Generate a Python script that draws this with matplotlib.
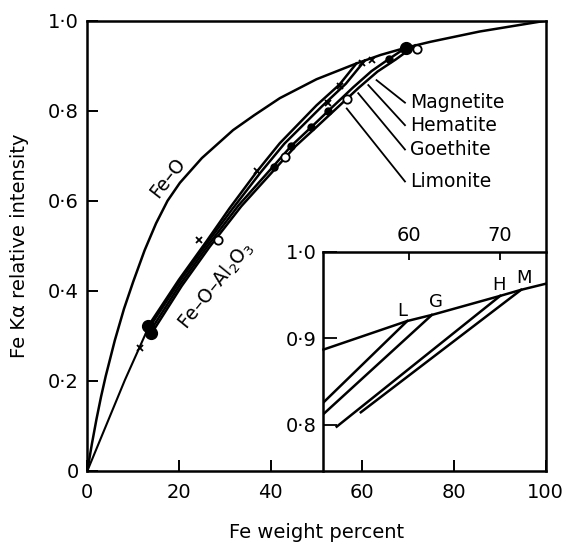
import matplotlib
matplotlib.use("Agg")
import matplotlib.pyplot as plt

plt.rcParams['font.family'] = ['DejaVu Sans']

# ---------------- data (main panel) ----------------
feo_x = [0, 1, 2, 3, 4, 6, 8, 10, 12.5, 15, 17.5, 20.2, 25, 31.8, 36.4, 42, 50, 58.7, 64, 69.5, 74.8, 85.6, 100]
feo_y = [0, 0.06, 0.115, 0.165, 0.21, 0.29, 0.36, 0.42, 0.49, 0.55, 0.60, 0.64, 0.695, 0.757, 0.79, 0.828, 0.87, 0.905, 0.924, 0.940, 0.953, 0.976, 1.0]

base_x = [0, 8.2, 13.3]
base_y = [0, 0.202, 0.318]

lim_x = [13.3, 20.0, 26.0, 31.0, 37.0, 42.0, 50.0, 55.0, 58.7]
lim_y = [0.322, 0.425, 0.510, 0.583, 0.665, 0.728, 0.812, 0.858, 0.905]
goe_x = [13.5, 20.2, 26.2, 31.5, 37.8, 43.0, 51.2, 56.4, 60.5]
goe_y = [0.318, 0.422, 0.507, 0.580, 0.663, 0.727, 0.810, 0.860, 0.911]
hem_x = [13.8, 20.3, 26.4, 33.0, 40.7, 44.5, 48.9, 52.6, 58.0, 62.0, 65.8, 69.5]
hem_y = [0.312, 0.415, 0.502, 0.590, 0.678, 0.722, 0.764, 0.800, 0.852, 0.888, 0.915, 0.940]
mag_x = [14.1, 20.6, 26.7, 33.6, 41.5, 45.4, 49.9, 53.7, 59.2, 63.3, 67.3, 71.5]
mag_y = [0.307, 0.411, 0.498, 0.588, 0.677, 0.721, 0.763, 0.799, 0.851, 0.887, 0.914, 0.945]

cross_x = [11.4, 24.3, 37.0, 52.6, 55.2, 59.9, 62.1]
cross_y = [0.274, 0.512, 0.667, 0.818, 0.855, 0.907, 0.912]
circ_x = [28.5, 43.1, 56.6, 72.0]
circ_y = [0.513, 0.697, 0.827, 0.938]
dot_x = [40.7, 44.5, 48.9, 52.6, 65.8]
dot_y = [0.676, 0.722, 0.764, 0.799, 0.915]
bigdot_x = [13.3, 14.0, 69.5]
bigdot_y = [0.322, 0.307, 0.940]

minerals = ['Magnetite', 'Hematite', 'Goethite', 'Limonite']
leader_x0 = [63.1, 61.3, 59.1, 56.6]
leader_y0 = [0.868, 0.857, 0.839, 0.805]
leader_y1 = [0.818, 0.768, 0.714, 0.643]
leader_x1 = 69.3

x_ticks = [0, 20, 40, 60, 80, 100]
x_ticklabels = ['0', '20', '40', '60', '80', '100']
y_ticks = [0, 0.2, 0.4, 0.6, 0.8, 1.0]
y_ticklabels = ['0', '0·2', '0·4', '0·6', '0·8', '1·0']

# ---------------- data (inset) ----------------
ins_feo_x = [50.6, 59.8, 62.5, 70.0, 72.3, 75.0]
ins_feo_y = [0.887, 0.920, 0.927, 0.949, 0.956, 0.963]
ins_lines = {
    'L': ([50.6, 59.8], [0.826, 0.920]),
    'G': ([50.6, 62.5], [0.8126, 0.927]),
    'H': ([52.05, 70.0], [0.798, 0.949]),
    'M': ([54.7, 72.3], [0.8146, 0.956]),
}
ins_label_pos = {'L': (59.3, 0.931), 'G': (62.9, 0.942), 'H': (69.9, 0.962), 'M': (72.6, 0.970)}
ins_xticks = [60, 70]
ins_yticks = [0.8, 0.9, 1.0]
ins_yticklabels = ['0·8', '0·9', '1·0']

# ---------------- figure ----------------
W, H = 569, 545
fig = plt.figure(figsize=(W / 100, H / 100), dpi=100)
ax = fig.add_axes([87.3 / W, 1 - 471 / H, (545.7 - 87.3) / W, (471 - 20.7) / H])
ax.set_xlim(0, 100)
ax.set_ylim(0, 1)

lw = 1.8
ax.plot(feo_x, feo_y, color='black', lw=lw, solid_joinstyle='round')
ax.plot(base_x, base_y, color='black', lw=1.5)
for xs, ys in [(lim_x, lim_y), (goe_x, goe_y), (hem_x, hem_y), (mag_x, mag_y)]:
    ax.plot(xs, ys, color='black', lw=lw, solid_joinstyle='round')

ax.plot(cross_x, cross_y, ls='none', marker='x', ms=5, mew=1.3, color='black')
ax.plot(circ_x, circ_y, ls='none', marker='o', ms=6, mew=1.3, mfc='white', mec='black')
ax.plot(dot_x, dot_y, ls='none', marker='o', ms=5, color='black')
ax.plot(bigdot_x, bigdot_y, ls='none', marker='o', ms=8.5, color='black')

for name, x0, y0, y1 in zip(minerals, leader_x0, leader_y0, leader_y1):
    ax.plot([x0, leader_x1], [y0, y1], color='black', lw=1.3)
    ax.text(leader_x1 + 1.2, y1, name, fontsize=13.5, ha='left', va='center')

ax.text(17.6, 0.652, 'Fe–O', fontsize=13.5, rotation=52, ha='center', va='center')
ax.text(28.1, 0.412, 'Fe–O–Al$_2$O$_3$', fontsize=13.5, rotation=51, ha='center', va='center')

ax.set_xticks(x_ticks)
ax.set_xticklabels(x_ticklabels)
ax.set_yticks(y_ticks)
ax.set_yticklabels(y_ticklabels)
ax.tick_params(direction='in', length=8, width=1.4, labelsize=14, top=False, right=False)
ax.tick_params(axis='y', pad=6)
ax.tick_params(axis='x', pad=9)
for s in ax.spines.values():
    s.set_linewidth(1.8)
ax.set_xlabel('Fe weight percent', fontsize=14, labelpad=15)
ax.set_ylabel('Fe Kα relative intensity', fontsize=14, labelpad=14)

# ---------------- inset ----------------
axi = fig.add_axes([323.5 / W, 1 - 471 / H, (545.7 - 323.5) / W, (471 - 251.7) / H])
axi.patch.set_visible(False)
axi.set_xlim(50.6, 75.0)
axi.set_ylim(0.7468, 1.0)
axi.plot(ins_feo_x, ins_feo_y, color='black', lw=lw, clip_on=False)
for key, (xs, ys) in ins_lines.items():
    axi.plot(xs, ys, color='black', lw=lw)
    lx, ly = ins_label_pos[key]
    axi.text(lx, ly, key, fontsize=13, ha='center', va='center')
axi.spines['right'].set_visible(False)
axi.spines['bottom'].set_visible(False)
axi.spines['left'].set_linewidth(1.8)
axi.spines['top'].set_linewidth(1.8)
axi.xaxis.set_ticks_position('top')
axi.set_xticks(ins_xticks)
axi.set_xticklabels([str(t) for t in ins_xticks])
axi.set_yticks(ins_yticks)
axi.set_yticklabels(ins_yticklabels)
axi.tick_params(axis='x', direction='in', length=6, width=1.3, labelsize=14, pad=5)
axi.tick_params(axis='y', direction='in', length=10, width=1.3, labelsize=14, pad=5)

fig.savefig('out.png', dpi=100)
